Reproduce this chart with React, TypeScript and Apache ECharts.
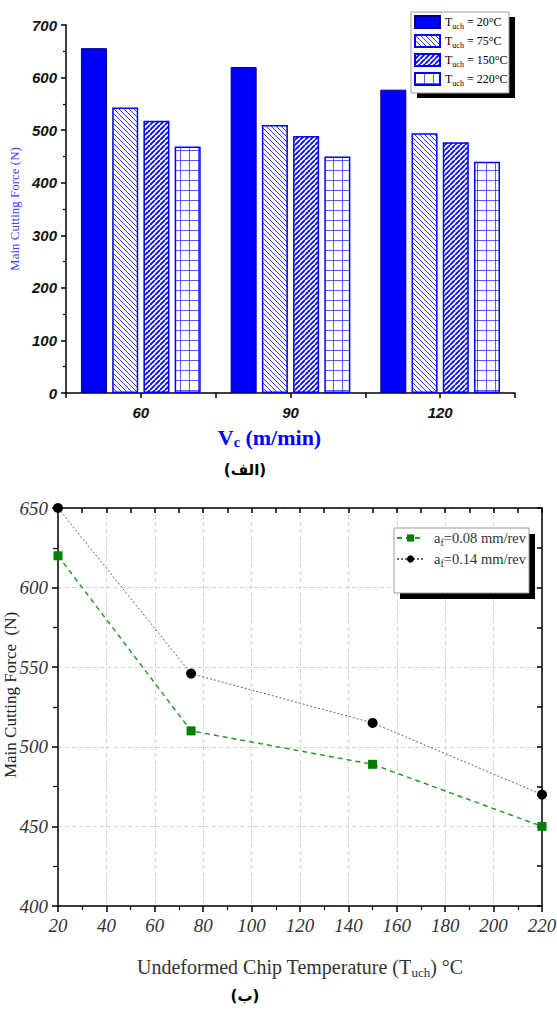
import React, { useEffect, useRef } from 'react';
import * as echarts from 'echarts';

// ---- Chart (الف): bars ----
const speedCategories = ['60', '90', '120'];
const tempLabels = ['20°C', '75°C', '150°C', '220°C'];
const force20 = [656, 620, 577];
const force75 = [543, 510, 494];
const force150 = [518, 489, 477];
const force220 = [469, 450, 440];

// ---- Chart (ب): lines ----
const chipTemps = [20, 75, 150, 220];
const feedLabels = ['0.08 mm/rev', '0.14 mm/rev'];
const forceFeed008 = [620, 510, 489, 450];
const forceFeed014 = [650, 546, 515, 470];

function makePattern(kind: string): HTMLCanvasElement {
  const c = document.createElement('canvas');
  const ctx = c.getContext('2d') as CanvasRenderingContext2D;
  if (kind === 'back') {
    const s = 5;
    c.width = s; c.height = s;
    ctx.strokeStyle = '#3a3aff';
    ctx.lineWidth = 1;
    ctx.beginPath();
    for (const o of [-s, 0, s]) { ctx.moveTo(o, 0); ctx.lineTo(o + s, s); }
    ctx.stroke();
  } else if (kind === 'fwd') {
    const s = 5;
    c.width = s; c.height = s;
    ctx.strokeStyle = '#0000ff';
    ctx.lineWidth = 1.8;
    ctx.beginPath();
    for (const o of [-s, 0, s]) { ctx.moveTo(o, s); ctx.lineTo(o + s, 0); }
    ctx.stroke();
  } else {
    c.width = 9; c.height = 10;
    ctx.fillStyle = 'rgba(40,40,255,0.75)';
    ctx.fillRect(0, 0, 9, 1);
    ctx.fillRect(0, 0, 1, 10);
  }
  return c;
}

export default function App() {
  const ref = useRef<HTMLDivElement>(null);
  useEffect(() => {
    if (!ref.current) return;
    const chart = echarts.init(ref.current, null, { renderer: 'svg' });
    const pBack = { image: makePattern('back'), repeat: 'repeat' };
    const pFwd = { image: makePattern('fwd'), repeat: 'repeat' };
    const pGrid = { image: makePattern('grid'), repeat: 'repeat' };

    const serif = 'Liberation Serif';
    const tuchRich = {
      t: { fontFamily: serif, fontSize: 12, color: '#000', lineHeight: 16 },
      s: { fontFamily: serif, fontSize: 8, color: '#000', lineHeight: 16, verticalAlign: 'bottom', padding: [6, 0, 0, 0] },
    };
    const afRich = {
      p: { fontFamily: serif, fontSize: 14.5, color: '#333', lineHeight: 18, padding: [0, 0, 0, 5] },
      t: { fontFamily: serif, fontSize: 14.5, color: '#333', lineHeight: 18 },
      s: { fontFamily: serif, fontSize: 10, color: '#333', lineHeight: 18, verticalAlign: 'bottom', padding: [7, 0, 0, 0] },
    };

    const barFills = [
      { color: '#0000ff', borderColor: '#00008b', borderWidth: 1 },
      { color: pBack, borderColor: '#0000ff', borderWidth: 1.5 },
      { color: pFwd, borderColor: '#0000ff', borderWidth: 1.5 },
      { color: pGrid, borderColor: '#0000ff', borderWidth: 1.5 },
    ];
    const barData = [force20, force75, force150, force220];

    const blackLine = { lineStyle: { color: '#000', width: 1.5 } };

    const option: any = {
      animation: false,
      backgroundColor: '#fff',
      grid: [
        { left: 66, right: 42, top: 25, bottom: 619, outerBoundsMode: 'none', containLabel: false },
        { left: 58, right: 15, top: 508, bottom: 106, outerBoundsMode: 'none', containLabel: false },
      ],
      legend: [
        {
          data: tempLabels,
          orient: 'vertical',
          left: 414, top: 15,
          itemWidth: 25, itemHeight: 12, itemGap: 4, padding: 0,
          icon: 'rect',
          z: 6,
          formatter: (n: string) => `{t|T}{s|uch}{t| = ${n}}`,
          textStyle: { fontFamily: serif, rich: tuchRich },
        },
        {
          data: feedLabels,
          orient: 'vertical',
          left: 396, top: 530,
          itemWidth: 27, itemHeight: 9, itemGap: 4, padding: 0,
          z: 6,
          formatter: (n: string) => `{p|a}{s|f}{t|=${n}}`,
          textStyle: { fontFamily: serif, rich: afRich },
        },
      ],
      xAxis: [
        {
          type: 'category', gridIndex: 0, data: speedCategories,
          axisLine: blackLine,
          axisTick: { show: true, alignWithLabel: false, length: 5, lineStyle: { color: '#000', width: 1.5 } },
          axisLabel: { fontFamily: 'Liberation Sans', fontWeight: 'bold', fontStyle: 'italic', fontSize: 15, color: '#111', margin: 12 },
          name: '{v|V}{c|c}{v| (m/min)}',
          nameLocation: 'middle', nameGap: 33,
          nameTextStyle: {
            fontFamily: serif, fontWeight: 'bold', fontSize: 22, color: '#0000ff',
            padding: [0, 42, 0, 0],
            rich: {
              v: { fontFamily: serif, fontWeight: 'bold', fontSize: 22, color: '#0000ff' },
              c: { fontFamily: serif, fontWeight: 'bold', fontSize: 14, color: '#0000ff', verticalAlign: 'bottom', padding: [9, 0, 0, 0] },
            },
          },
        },
        {
          type: 'category', gridIndex: 0, data: speedCategories, position: 'bottom',
          axisLine: { show: false },
          axisTick: { show: true, alignWithLabel: true, length: 5, lineStyle: { color: '#000', width: 1.5 } },
          axisLabel: { show: false },
        },
        {
          type: 'value', gridIndex: 1, min: 20, max: 220, interval: 20, position: 'bottom',
          axisLine: blackLine,
          axisTick: { show: true, length: 6, lineStyle: { color: '#000', width: 1.5 } },
          minorTick: { show: true, splitNumber: 2, length: 4, lineStyle: { color: '#000', width: 1.2 } },
          axisLabel: { fontFamily: serif, fontStyle: 'italic', fontSize: 19, color: '#333', margin: 10 },
          splitLine: { show: true, lineStyle: { color: '#d4d4d4', type: [4, 3], width: 1 } },
          name: '{t|Undeformed Chip Temperature (T}{s|uch}{t|) °C}',
          nameLocation: 'middle', nameGap: 49,
          nameTextStyle: {
            fontFamily: serif,
            rich: {
              t: { fontFamily: serif, fontSize: 20, color: '#333', lineHeight: 24 },
              s: { fontFamily: serif, fontSize: 13, color: '#333', lineHeight: 24, verticalAlign: 'bottom', padding: [9, 0, 0, 0] },
            },
          },
        },
        {
          type: 'value', gridIndex: 1, min: 20, max: 220, interval: 10, position: 'top',
          axisLine: blackLine,
          axisTick: { show: true, inside: true, length: 5, lineStyle: { color: '#000', width: 1.5 } },
          axisLabel: { show: false },
          splitLine: { show: false },
        },
      ],
      yAxis: [
        {
          type: 'value', gridIndex: 0, min: 0, max: 700, interval: 100,
          axisLine: { show: true, lineStyle: { color: '#000', width: 1.5 } },
          axisTick: { show: true, length: 5, lineStyle: { color: '#000', width: 1.5 } },
          minorTick: { show: true, splitNumber: 2, length: 3, lineStyle: { color: '#000', width: 1.2 } },
          axisLabel: { fontFamily: 'Liberation Sans', fontWeight: 'bold', fontStyle: 'italic', fontSize: 15, color: '#111', margin: 9 },
          splitLine: { show: false },
          name: 'Main Cutting Force (N)',
          nameLocation: 'middle', nameGap: 40, nameRotate: 90,
          nameTextStyle: { fontFamily: serif, fontSize: 13, color: '#3c3cff' },
        },
        {
          type: 'value', gridIndex: 1, min: 400, max: 650, interval: 50, position: 'left',
          axisLine: { show: true, lineStyle: { color: '#000', width: 1.5 } },
          axisTick: { show: true, length: 6, lineStyle: { color: '#000', width: 1.5 } },
          minorTick: { show: true, splitNumber: 2, length: 5, lineStyle: { color: '#000', width: 1.2 } },
          axisLabel: { fontFamily: serif, fontStyle: 'italic', fontSize: 19, color: '#333', margin: 10 },
          splitLine: { show: true, lineStyle: { color: '#d4d4d4', type: [4, 3], width: 1 } },
        },
        {
          type: 'value', gridIndex: 1, min: 400, max: 650, interval: 25, position: 'right',
          axisLine: { show: true, lineStyle: { color: '#000', width: 1.5 } },
          axisTick: { show: true, inside: true, length: 5, lineStyle: { color: '#000', width: 1.5 } },
          axisLabel: { show: false },
          splitLine: { show: false },
        },
      ],
      series: [
        ...tempLabels.map((name, i) => ({
          type: 'bar', name, xAxisIndex: 0, yAxisIndex: 0,
          data: barData[i],
          barGap: '20%', barCategoryGap: '20%',
          itemStyle: barFills[i],
        })),
        {
          type: 'line', name: feedLabels[0], xAxisIndex: 2, yAxisIndex: 1,
          data: chipTemps.map((t, i) => [t, forceFeed008[i]]),
          symbol: 'rect', symbolSize: 9,
          itemStyle: { color: '#008000' },
          lineStyle: { color: '#2a9a2a', width: 1.5, type: [5, 4] },
        },
        {
          type: 'line', name: feedLabels[1], xAxisIndex: 2, yAxisIndex: 1,
          data: chipTemps.map((t, i) => [t, forceFeed014[i]]),
          symbol: 'circle', symbolSize: 10,
          itemStyle: { color: '#000' },
          lineStyle: { color: '#666', width: 1, type: [2, 2] },
        },
      ],
      graphic: [
        { type: 'rect', z: 3, shape: { x: 417, y: 17, width: 98, height: 81 }, style: { fill: '#000' } },
        { type: 'rect', z: 3, shape: { x: 411, y: 12, width: 98, height: 81 }, style: { fill: '#fff', stroke: '#9a9a9a', lineWidth: 1 } },
        { type: 'rect', z: 3, shape: { x: 400, y: 534, width: 135, height: 65 }, style: { fill: '#000' } },
        { type: 'rect', z: 3, shape: { x: 394, y: 528, width: 135, height: 65 }, style: { fill: '#fff', stroke: '#9a9a9a', lineWidth: 1 } },
        { type: 'text', z: 3, x: 10, y: 695, rotation: Math.PI / 2, style: { text: 'Main Cutting Force  (N)', font: '17px "Liberation Serif"', fill: '#222', align: 'center', verticalAlign: 'middle' } },
        { type: 'text', z: 3, x: 245, y: 470, style: { text: '(الف)', font: 'bold 15px "DejaVu Sans"', fill: '#000', align: 'center', verticalAlign: 'middle' } },
        { type: 'text', z: 3, x: 245, y: 996, style: { text: '(ب)', font: 'bold 15px "DejaVu Sans"', fill: '#000', align: 'center', verticalAlign: 'middle' } },
      ],
    };
    chart.setOption(option);
    return () => chart.dispose();
  }, []);
  return <div ref={ref} style={{ position: 'absolute', left: 0, top: 0, width: 557, height: 1012 }} />;
}
